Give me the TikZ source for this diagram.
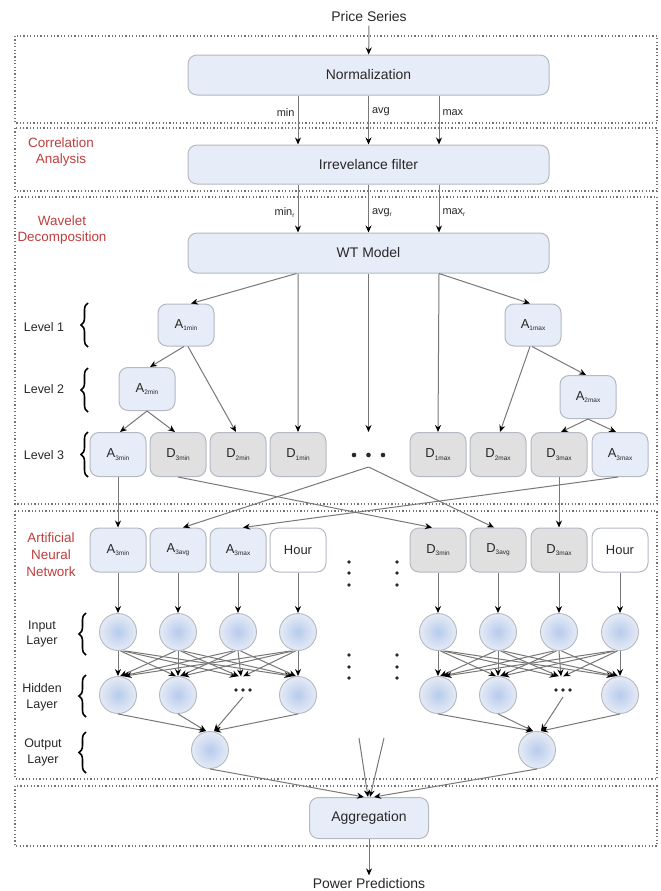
\documentclass[tikz,border=0pt]{standalone}
\usepackage{fontspec}
\setmainfont{Liberation Sans}
\usetikzlibrary{arrows.meta,decorations.pathreplacing}
\definecolor{bluef}{RGB}{230,236,248}
\definecolor{grayf}{RGB}{224,224,224}
\definecolor{bordc}{RGB}{180,185,194}
\definecolor{linec}{RGB}{120,120,120}
\definecolor{txtc}{RGB}{40,40,40}
\definecolor{redc}{RGB}{192,62,62}
\definecolor{framec}{RGB}{115,115,115}
\definecolor{neuin}{RGB}{184,203,236}
\definecolor{neuout}{RGB}{229,235,246}
\newcommand\sbs[1]{\raisebox{-2.2bp}{\fontsize{6.5}{7}\selectfont #1}}
\tikzset{
  bigbox/.style={rounded corners=9bp, draw=bordc, line width=1bp, fill=bluef, text=txtc,
    font=\fontsize{14}{16}\selectfont, minimum width=361bp, inner sep=0pt},
  lbox/.style={rounded corners=9bp, draw=bordc, line width=1bp, minimum width=56bp,
    minimum height=44bp, inner sep=0pt, text=txtc, font=\fontsize{13}{15}\selectfont},
  bl/.style={lbox, fill=bluef},
  gr/.style={lbox, fill=grayf},
  wh/.style={lbox, fill=white},
  neuron/.style={circle, draw=bordc, line width=0.9bp, minimum size=37bp, inner sep=0pt,
    inner color=neuin, outer color=neuout},
  conn/.style={draw=linec, line width=1bp, -{Stealth[length=7bp,width=6bp,color=black]}},
  framebox/.style={draw=framec, line width=1.2bp, dash pattern=on 1.2bp off 2.2bp},
  plaintext/.style={text=txtc, font=\fontsize{14}{16}\selectfont},
  smalllab/.style={text=txtc, font=\fontsize{11}{13}\selectfont, inner sep=3bp},
  levlab/.style={text=txtc, font=\fontsize{12.5}{16}\selectfont, align=center},
  sectlab/.style={text=redc, font=\fontsize{13.5}{17}\selectfont, align=center},
  bracestyle/.style={decorate, decoration={brace, amplitude=7bp}, line width=1.6bp, draw=black},
}
\begin{document}
\begin{tikzpicture}[x=1bp,y=-1bp]
\useasboundingbox (0,0) rectangle (661,891);
\fill[white] (0,0) rectangle (661,891);

% section frames
\draw[framebox] (15,36) rectangle (657,123);
\draw[framebox] (15,128) rectangle (657,191);
\draw[framebox] (15,197) rectangle (657,504);
\draw[framebox] (15,511) rectangle (657,779);
\draw[framebox] (15,786) rectangle (657,846);

% section labels
\node[sectlab] (lcorr) at (61,152) {Correlation\\Analysis};
\node[sectlab] (lwav) at (62,230) {Wavelet\\Decomposition};
\node[sectlab] (lann) at (51,555) {Artificial\\Neural\\Network};

% top chain
\node[plaintext] (ps) at (369,17) {Price Series};
\node[bigbox, minimum height=40bp] (norm) at (368.5,75) {Normalization};
\node[bigbox, minimum height=39bp] (irr) at (368.5,164.5) {Irrevelance filter};
\node[bigbox, minimum height=40bp] (wt) at (368.5,253) {WT Model};

\draw[conn] (ps) -- (norm);
\draw[conn] ([xshift=-70.5bp]norm.south) -- node[pos=0.34, left, smalllab] {min} ([xshift=-70.5bp]irr.north);
\draw[conn] (norm.south) -- node[pos=0.34, right, smalllab] {avg} (irr.north);
\draw[conn] ([xshift=70.5bp]norm.south) -- node[pos=0.34, right, smalllab] {max} ([xshift=70.5bp]irr.north);
\draw[conn] ([xshift=-70.5bp]irr.south) -- node[pos=0.59, left, smalllab] {min\sbs{r}} ([xshift=-70.5bp]wt.north);
\draw[conn] (irr.south) -- node[pos=0.59, right, smalllab] {avg\sbs{r}} (wt.north);
\draw[conn] ([xshift=70.5bp]irr.south) -- node[pos=0.59, right, smalllab] {max\sbs{r}} ([xshift=70.5bp]wt.north);

% level labels and braces
\node[levlab] (lv1) at (44,327) {Level 1};
\node[levlab] (lv2) at (44,389) {Level 2};
\node[levlab] (lv3) at (44,455) {Level 3};
\draw[bracestyle] (88,347) -- (88,303);
\draw[bracestyle] (88,412) -- (88,368);
\draw[bracestyle] (88,477) -- (88,432);

% wavelet tree
\node[bl, minimum height=42bp] (a1min) at (186,325) {A\sbs{1min}};
\node[bl, minimum height=42bp] (a1max) at (533,325) {A\sbs{1max}};
\node[bl, minimum height=43bp] (a2min) at (147,389) {A\sbs{2min}};
\node[bl, minimum height=43bp] (a2max) at (588,397) {A\sbs{2max}};

\node[bl] (a3min) at (118,454.5) {A\sbs{3min}};
\node[gr] (d3min) at (178,454.5) {D\sbs{3min}};
\node[gr] (d2min) at (238,454.5) {D\sbs{2min}};
\node[gr] (d1min) at (298,454.5) {D\sbs{1min}};
\node[gr] (d1max) at (438,454.5) {D\sbs{1max}};
\node[gr] (d2max) at (498,454.5) {D\sbs{2max}};
\node[gr] (d3max) at (559,454.5) {D\sbs{3max}};
\node[bl] (a3max) at (620,454.5) {A\sbs{3max}};
\foreach \x in {354,368.5,383} \fill[txtc] (\x,455) circle (2.3bp);
\coordinate (dtop) at (368.5,432);
\coordinate (dbot) at (368.5,467);

\draw[conn] ([xshift=-72bp]wt.south) -- ([xshift=5bp]a1min.north);
\draw[conn] ([xshift=70.5bp]wt.south) -- ([xshift=-3bp]a1max.north);
\draw[conn] ([xshift=-70.5bp]wt.south) -- (d1min.north);
\draw[conn] (wt.south) -- (dtop);
\draw[conn] ([xshift=70.5bp]wt.south) -- (d1max.north);

\draw[conn] ([xshift=-2bp]a1min.south) -- ([xshift=3bp]a2min.north);
\draw[conn] ([xshift=2bp]a1min.south) -- ([xshift=-2bp]d2min.north);
\draw[conn] ([xshift=-1bp]a1max.south) -- ([xshift=-2bp]a2max.north);
\draw[conn] ([xshift=-3bp]a1max.south) -- ([xshift=2bp]d2max.north);
\draw[conn] (a2min.south) -- ([xshift=2bp]a3min.north);
\draw[conn] (a2min.south) -- ([xshift=-3bp]d3min.north);
\draw[conn] (a2max.south) -- ([xshift=2bp]d3max.north);
\draw[conn] (a2max.south) -- ([xshift=-4bp]a3max.north);

% ANN inputs
\node[bl] (n1) at (118,550) {A\sbs{3min}};
\node[bl] (n2) at (178,550) {A\sbs{3avg}};
\node[bl] (n3) at (238,550) {A\sbs{3max}};
\node[wh] (n4) at (298,550) {Hour};
\node[gr] (n5) at (438,550) {D\sbs{3min}};
\node[gr] (n6) at (498,550) {D\sbs{3avg}};
\node[gr] (n7) at (559,550) {D\sbs{3max}};
\node[wh] (n8) at (620,550) {Hour};

\draw[conn] (a3min.south) -- (n1.north);
\draw[conn] (d3min.south) -- ([xshift=-6bp]n5.north);
\draw[conn] (dbot) -- ([xshift=5bp]n2.north);
\draw[conn] (dbot) -- ([xshift=-4bp]n6.north);
\draw[conn] ([xshift=-2bp]a3max.south) -- ([xshift=5bp]n3.north);
\draw[conn] (d3max.south) -- (n7.north);

% vertical ellipsis dots
\foreach \y in {562,573,585,655,667,678} {
  \fill[txtc] (349,\y) circle (1.9bp);
  \fill[txtc] (397,\y) circle (1.9bp);
}

% layer labels and braces
\node[levlab] (lin) at (42,634) {Input\\Layer};
\node[levlab] (lhid) at (42,697) {Hidden\\Layer};
\node[levlab] (lout) at (43,752) {Output\\Layer};
\draw[bracestyle] (86,655) -- (86,613);
\draw[bracestyle] (86,717) -- (86,675);
\draw[bracestyle] (86,773) -- (86,732);

% neurons
\foreach \k/\x in {1/118,2/178,3/238,4/298} {
  \node[neuron] (iL\k) at (\x,632) {};
  \draw[conn] (n\k.south) -- (iL\k.north);
}
\foreach \k/\x/\m in {1/438/5,2/498/6,3/559/7,4/620/8} {
  \node[neuron] (iR\k) at (\x,632) {};
  \draw[conn] (n\m.south) -- (iR\k.north);
}
\node[neuron] (hL1) at (118,695) {};
\node[neuron] (hL2) at (178,695) {};
\node[inner sep=0pt, minimum size=37bp] (hL3) at (241,695) {};
\node[neuron] (hL4) at (298,695) {};
\node[neuron] (hR1) at (438,695) {};
\node[neuron] (hR2) at (498,695) {};
\node[inner sep=0pt, minimum size=37bp] (hR3) at (561,695) {};
\node[neuron] (hR4) at (620,695) {};
\foreach \x in {236,243,250} {
  \fill[txtc] (\x,690) circle (1.8bp);
  \fill[txtc] (\x+320,690) circle (1.8bp);
}
\coordinate (hdL) at (243,697);
\coordinate (hdR) at (563,697);

\foreach \i in {1,...,4} {
  \foreach \j in {1,...,4} {
    \draw[conn] ([xshift={(\j-\i)*2.5bp}]iL\i.south) -- ([xshift={(\i-\j)*2.2bp}]hL\j.north);
    \draw[conn] ([xshift={(\j-\i)*2.5bp}]iR\i.south) -- ([xshift={(\i-\j)*2.2bp}]hR\j.north);
  }
}

\node[neuron] (oL) at (210,750) {};
\node[neuron] (oR) at (537,750) {};
\draw[conn] (hL1.south) -- ([xshift=-4bp]oL.north);
\draw[conn] (hL2.south) -- ([xshift=-4bp]oL.north);
\draw[conn] (hdL) -- ([xshift=4bp]oL.north);
\draw[conn] (hL4.south) -- ([xshift=4bp]oL.north);
\draw[conn] (hR1.south) -- ([xshift=-4bp]oR.north);
\draw[conn] (hR2.south) -- ([xshift=-4bp]oR.north);
\draw[conn] (hdR) -- ([xshift=4bp]oR.north);
\draw[conn] (hR4.south) -- ([xshift=4bp]oR.north);

% aggregation
\node[bigbox, minimum width=119bp, minimum height=41bp] (agg) at (369,818) {Aggregation};
\coordinate (extraL) at (359,738);
\coordinate (extraR) at (384,738);
\draw[conn] (oL.south) -- ([xshift=-5bp]agg.north);
\draw[conn] (oR.south) -- ([xshift=5bp]agg.north);
\draw[conn] (extraL) -- ([xshift=-1bp]agg.north);
\draw[conn] (extraR) -- ([xshift=1bp]agg.north);

\node[plaintext] (pp) at (369,884) {Power Predictions};
\draw[conn] (agg.south) -- (pp.north);
\end{tikzpicture}
\end{document}
